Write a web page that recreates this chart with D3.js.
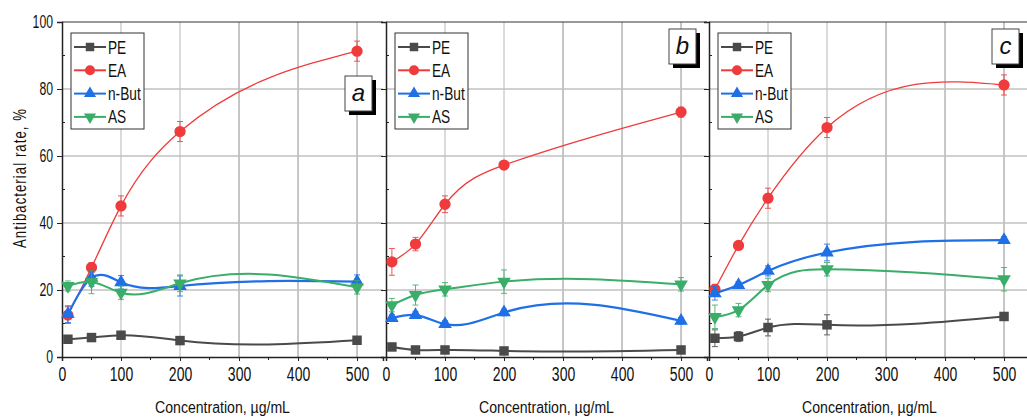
<!DOCTYPE html>
<html>
<head>
<meta charset="utf-8">
<script src="https://cdn.jsdelivr.net/npm/d3@7"></script>
<style>
  body { margin: 0; background: #fff; }
  svg { display: block; }
  text { font-family: 'Liberation Sans Narrow', 'Arial Narrow', 'Liberation Sans', Arial, sans-serif; fill: #111; }
</style>
</head>
<body>
<svg id="chart" width="1027" height="419"></svg>
<script>
// --- data ---
const concentrations = [10, 50, 100, 200, 500]
const seriesNames = ['PE', 'EA', 'n-But', 'AS']
const panelLabels = ['a', 'b', 'c']
const xTicks = [0, 100, 200, 300, 400, 500]
const yTicks = [0, 20, 40, 60, 80, 100]

// panel a
const peA = [5.3, 5.8, 6.5, 4.9, 5.0]
const eaA = [12.5, 26.7, 45.1, 67.3, 91.3]
const butA = [12.8, 23.6, 22.3, 21.2, 22.5]
const asA = [21.2, 22.4, 19.2, 22.0, 20.8]
const peAErr = [1.0, 0.8, 1.0, 0.8, 0.6]
const eaAErr = [2.5, 1.5, 3.0, 3.0, 3.0]
const butAErr = [2.5, 2.5, 2.0, 3.0, 2.0]
const asAErr = [1.5, 3.5, 2.0, 2.5, 2.0]

// panel b
const peB = [3.0, 2.1, 2.1, 1.8, 2.1]
const eaB = [28.4, 33.7, 45.6, 57.3, 73.1]
const butB = [11.6, 12.5, 9.8, 13.3, 10.8]
const asB = [15.5, 18.5, 20.2, 22.5, 21.7]
const peBErr = [0.5, 0.5, 0.5, 0.5, 0.5]
const eaBErr = [4.0, 2.0, 2.5, 1.0, 1.5]
const butBErr = [1.0, 1.0, 1.0, 1.0, 1.0]
const asBErr = [2.0, 3.0, 2.0, 3.5, 2.0]

// panel c
const peC = [5.6, 6.1, 8.8, 9.6, 12.1]
const eaC = [20.2, 33.3, 47.4, 68.5, 81.2]
const butC = [19.0, 21.5, 25.7, 31.2, 34.9]
const asC = [12.0, 14.0, 21.5, 26.2, 23.2]
const peCErr = [2.5, 1.5, 2.5, 3.0, 1.0]
const eaCErr = [1.5, 1.0, 3.0, 3.0, 3.0]
const butCErr = [2.0, 1.0, 1.5, 2.5, 1.0]
const asCErr = [3.5, 2.0, 2.0, 2.0, 3.5]

const panelValues = [
  [peA, eaA, butA, asA],
  [peB, eaB, butB, asB],
  [peC, eaC, butC, asC]
]
const panelErrors = [
  [peAErr, eaAErr, butAErr, asAErr],
  [peBErr, eaBErr, butBErr, asBErr],
  [peCErr, eaCErr, butCErr, asCErr]
]

// --- styling ---
const COLORS = ['#4a4a4a', '#ef3b3b', '#1f6fe6', '#3aad68']
const LINE_WIDTHS = [2, 1.3, 2.2, 2]
const SYMBOLS = [d3.symbolSquare, d3.symbolCircle, d3.symbolTriangle, d3.symbolTriangle]
const SYMBOL_SIZES = [90, 100, 80, 80]
const SYMBOL_ROTATE = [0, 0, 0, 180]

const panelLefts = [62, 386, 709]
const PANEL_WIDTH = 321
const TOP = 22
const BOTTOM = 357

// squeeze text horizontally to mimic the condensed face of the original
function narrow (selection, factor) {
  selection.each(function () {
    const len = this.getComputedTextLength()
    d3.select(this)
      .attr('textLength', len * factor)
      .attr('lengthAdjust', 'spacingAndGlyphs')
  })
}

// natural cubic spline of y over x, drawn as bezier segments
function curveSplineX (context) {
  let xs, ys
  return {
    areaStart () {},
    areaEnd () {},
    lineStart () { xs = []; ys = [] },
    point (px, py) { xs.push(+px); ys.push(+py) },
    lineEnd () {
      const n = xs.length
      if (!n) return
      context.moveTo(xs[0], ys[0])
      if (n < 3) {
        for (let i = 1; i < n; i++) context.lineTo(xs[i], ys[i])
        return
      }
      const h = []
      for (let i = 0; i < n - 1; i++) h.push(xs[i + 1] - xs[i])
      // tridiagonal solve for second derivatives, M0 = Mn-1 = 0
      const a = new Array(n).fill(0)
      const b = new Array(n).fill(1)
      const c = new Array(n).fill(0)
      const r = new Array(n).fill(0)
      for (let i = 1; i < n - 1; i++) {
        a[i] = h[i - 1]
        b[i] = 2 * (h[i - 1] + h[i])
        c[i] = h[i]
        r[i] = 6 * ((ys[i + 1] - ys[i]) / h[i] - (ys[i] - ys[i - 1]) / h[i - 1])
      }
      for (let i = 1; i < n; i++) {
        const w = a[i] / b[i - 1]
        b[i] -= w * c[i - 1]
        r[i] -= w * r[i - 1]
      }
      const M = new Array(n).fill(0)
      M[n - 1] = r[n - 1] / b[n - 1]
      for (let i = n - 2; i >= 0; i--) M[i] = (r[i] - c[i] * M[i + 1]) / b[i]
      for (let i = 0; i < n - 1; i++) {
        const s = (ys[i + 1] - ys[i]) / h[i]
        const m0 = s - h[i] * (2 * M[i] + M[i + 1]) / 6
        const m1 = s + h[i] * (M[i] + 2 * M[i + 1]) / 6
        context.bezierCurveTo(
          xs[i] + h[i] / 3, ys[i] + m0 * h[i] / 3,
          xs[i + 1] - h[i] / 3, ys[i + 1] - m1 * h[i] / 3,
          xs[i + 1], ys[i + 1]
        )
      }
    }
  }
}

const svg = d3.select('#chart')

const y = d3.scaleLinear().domain([0, 100]).range([BOTTOM, TOP])

panelLefts.forEach((left, p) => {
  const x = d3.scaleLinear().domain([0, 544]).range([left, left + PANEL_WIDTH])
  const g = svg.append('g').attr('class', `panel panel--${panelLabels[p]}`)

  // grid
  g.append('g')
    .selectAll('line')
    .data(xTicks.filter(t => t > 0))
    .join('line')
    .attr('x1', d => x(d)).attr('x2', d => x(d))
    .attr('y1', TOP).attr('y2', BOTTOM)
    .attr('stroke', (d, i) => (i < 2 ? '#c8c8c8' : '#a8a8a8')).attr('stroke-width', 1.3)
  g.append('g')
    .selectAll('line')
    .data(yTicks.filter(t => t > 0 && t < 100))
    .join('line')
    .attr('x1', left).attr('x2', left + PANEL_WIDTH)
    .attr('y1', d => y(d)).attr('y2', d => y(d))
    .attr('stroke', '#c0c0c0').attr('stroke-width', 1.5)

  // top frame
  g.append('line')
    .attr('x1', left).attr('x2', left + PANEL_WIDTH)
    .attr('y1', TOP).attr('y2', TOP)
    .attr('stroke', '#333').attr('stroke-width', 1)

  // x axis
  const xAxis = g.append('g')
    .attr('transform', `translate(0,${BOTTOM})`)
    .call(d3.axisBottom(x).tickValues(xTicks).tickSize(4).tickPadding(6))
  xAxis.select('.domain').attr('stroke', '#222').attr('stroke-width', 1.5)
  xAxis.selectAll('.tick line').attr('stroke', '#222')
  xAxis.selectAll('.tick text').style('font-size', '20px').attr('fill', '#111').call(narrow, 0.7)
  g.append('g')
    .selectAll('line')
    .data([50, 150, 250, 350, 450])
    .join('line')
    .attr('x1', d => x(d)).attr('x2', d => x(d))
    .attr('y1', BOTTOM).attr('y2', BOTTOM + 3)
    .attr('stroke', '#222')

  // y axis
  const yAxis = g.append('g')
    .attr('transform', `translate(${left},0)`)
    .call(d3.axisLeft(y).tickValues(yTicks).tickSize(5).tickPadding(4))
  yAxis.select('.domain').attr('stroke', '#222').attr('stroke-width', 1.5)
  yAxis.selectAll('.tick line').attr('stroke', '#222')
  if (p === 0) {
    yAxis.selectAll('.tick text').style('font-size', '18px').attr('fill', '#111').call(narrow, 0.68)
  } else {
    yAxis.selectAll('.tick text').remove()
  }
  g.append('g')
    .selectAll('line')
    .data([10, 30, 50, 70, 90])
    .join('line')
    .attr('x1', left).attr('x2', left + 3)
    .attr('y1', d => y(d)).attr('y2', d => y(d))
    .attr('stroke', '#222')

  // x title
  g.append('text')
    .attr('x', left + PANEL_WIDTH / 2)
    .attr('y', 413)
    .attr('text-anchor', 'middle')
    .style('font-size', '16px')
    .text('Concentration, µg/mL')
    .call(narrow, 0.88)

  // series
  const line = d3.line()
    .x(d => x(d.c))
    .y(d => y(d.v))
    .curve(curveSplineX)

  seriesNames.forEach((name, s) => {
    const pts = concentrations.map((c, i) => ({ c, v: panelValues[p][s][i], e: panelErrors[p][s][i] }))
    const sg = g.append('g').attr('class', `series series--${s}`)

    // error bars
    const eb = sg.append('g').attr('stroke', COLORS[s]).attr('stroke-width', 1).attr('opacity', 0.85)
    pts.forEach(d => {
      eb.append('line').attr('x1', x(d.c)).attr('x2', x(d.c)).attr('y1', y(d.v - d.e)).attr('y2', y(d.v + d.e))
      eb.append('line').attr('x1', x(d.c) - 3).attr('x2', x(d.c) + 3).attr('y1', y(d.v - d.e)).attr('y2', y(d.v - d.e))
      eb.append('line').attr('x1', x(d.c) - 3).attr('x2', x(d.c) + 3).attr('y1', y(d.v + d.e)).attr('y2', y(d.v + d.e))
    })

    sg.append('path')
      .datum(pts)
      .attr('fill', 'none')
      .attr('stroke', COLORS[s])
      .attr('stroke-width', LINE_WIDTHS[s])
      .attr('d', line)

    sg.selectAll('path.marker')
      .data(pts)
      .join('path')
      .attr('class', 'marker')
      .attr('d', d3.symbol().type(SYMBOLS[s]).size(SYMBOL_SIZES[s]))
      .attr('transform', d => `translate(${x(d.c)},${y(d.v)}) rotate(${SYMBOL_ROTATE[s]})`)
      .attr('fill', COLORS[s])
  })

  // legend
  const lgX = left + 9
  const lgY = 33
  const legend = g.append('g').attr('transform', `translate(${lgX},${lgY})`)
  legend.append('rect')
    .attr('width', 73).attr('height', 96)
    .attr('fill', '#fff').attr('stroke', '#333').attr('stroke-width', 1)
  seriesNames.forEach((name, s) => {
    const ly = 14 + s * 23.3
    legend.append('line')
      .attr('x1', 3).attr('x2', 35).attr('y1', ly).attr('y2', ly)
      .attr('stroke', COLORS[s]).attr('stroke-width', 2)
    legend.append('path')
      .attr('d', d3.symbol().type(SYMBOLS[s]).size(SYMBOL_SIZES[s] * 0.8))
      .attr('transform', `translate(19,${ly}) rotate(${SYMBOL_ROTATE[s]})`)
      .attr('fill', COLORS[s])
    legend.append('text')
      .attr('x', 37).attr('y', ly + 6.5)
      .style('font-size', '18px')
      .text(name)
      .call(narrow, 0.76)
  })

  // panel label box
  const labelY = p === 0 ? 76 : 29
  const lb = g.append('g').attr('transform', `translate(${left + 283},${labelY})`)
  lb.append('rect').attr('x', 4).attr('y', 4).attr('width', 27).attr('height', 35).attr('fill', '#000')
  lb.append('rect').attr('width', 27).attr('height', 35).attr('fill', '#fff').attr('stroke', '#444').attr('stroke-width', 1)
  lb.append('text')
    .attr('x', 13.5).attr('y', 25)
    .attr('text-anchor', 'middle')
    .style('font-size', '24px').style('font-style', 'italic')
    .text(panelLabels[p])
})

// y title
svg.append('text')
  .attr('transform', 'translate(26,178) rotate(-90)')
  .attr('text-anchor', 'middle')
  .style('font-size', '18px')
  .style('letter-spacing', '1.5px')
  .text('Antibacterial rate, %')
  .attr('textLength', 140)
  .attr('lengthAdjust', 'spacingAndGlyphs')
</script>
</body>
</html>
